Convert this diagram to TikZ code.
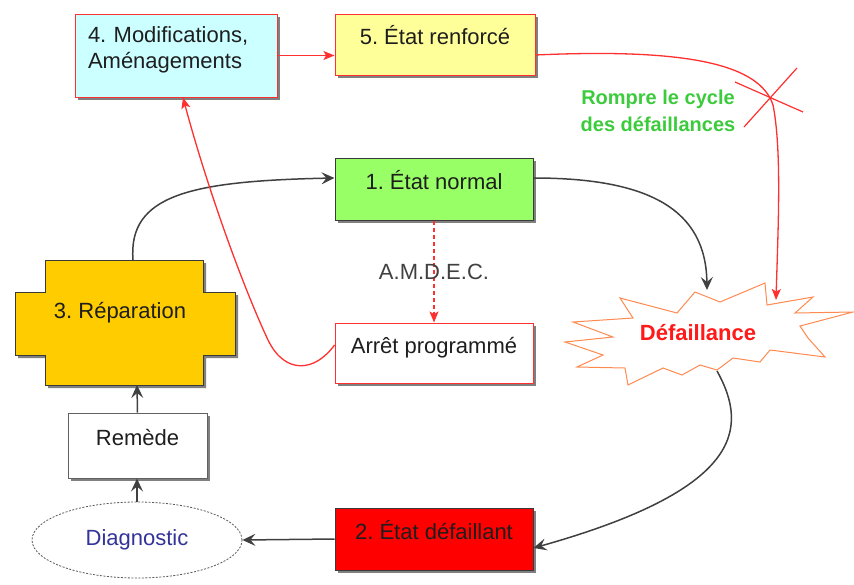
\documentclass[tikz,border=0pt]{standalone}
\usepackage{fontspec}
\setmainfont{Liberation Sans}
\usepackage{xcolor}
\usepackage{tikz}
\usetikzlibrary{arrows.meta,calc,shadows,shapes.geometric}
\frenchspacing
\definecolor{ink}{HTML}{1E1E1E}
\definecolor{cEdge}{HTML}{3A3A3A}
\definecolor{cRed}{HTML}{FF3030}
\definecolor{cCyan}{HTML}{CCFFFF}
\definecolor{cLemon}{HTML}{FFFF99}
\definecolor{cLeaf}{HTML}{99FF66}
\definecolor{cFail}{HTML}{FF0000}
\definecolor{cGold}{HTML}{FFCC00}
\definecolor{cBurst}{HTML}{FF8A50}
\definecolor{cBlue}{HTML}{333399}
\definecolor{cBreak}{HTML}{3CCB3C}
\definecolor{cShade}{HTML}{808080}
\tikzset{
  blk/.style  = {rectangle, line width=1pt, inner xsep=0pt, inner ysep=0pt, text=ink,
                 font=\fontsize{22}{26}\selectfont,
                 drop shadow={shadow xshift=3pt, shadow yshift=-3pt, fill=cShade, opacity=1}},
  red/.style  = {blk, draw=cRed},
  blkd/.style = {blk, draw=cEdge},
  txt/.style  = {font=\fontsize{22}{26}\selectfont, text=ink, inner sep=0pt},
  lab/.style  = {font=\fontsize{22}{26}\selectfont, text=ink!85, inner sep=0pt},
  brk/.style  = {font=\fontsize{20}{27}\selectfont\bfseries, text=cBreak, align=center, inner sep=0pt},
  ar/.style   = {-{Stealth[length=13pt,width=12pt,inset=5pt]}, line width=1.5pt, draw=ink!85},
  rar/.style  = {-{Stealth[length=11pt,width=9pt,inset=2.5pt]}, line width=1.3pt, draw=cRed},
  dar/.style  = {rar, dash pattern=on 4pt off 3pt},
}
\begin{document}
\begin{tikzpicture}[x=1pt,y=-1pt]
  \useasboundingbox (0,0) rectangle (854,584);

  % boxes
  \node[red, fill=cCyan, align=left, text width=176pt, inner xsep=13pt,
        text height=28pt, text depth=55pt] (n4) at (176,55.5) {4. Modifications,\\Aménagements};
  \node[red, fill=cLemon, minimum width=200pt, text height=30.5pt, text depth=30.5pt] (n5) at (435,44.5) {5. État renforcé};
  \node[blkd, fill=cLeaf, minimum width=198pt, text height=31pt, text depth=31pt] (n1) at (434,189) {1. État normal};
  \node[red, fill=white, minimum width=198pt, text height=30pt, text depth=30pt] (arr) at (434,353) {Arrêt programmé};
  \node[blkd, fill=cFail, minimum width=198pt, text height=31pt, text depth=31pt] (n2) at (434,539) {2. État défaillant};
  \node[blkd, draw=cEdge!80, fill=white, minimum width=139pt, text height=32.5pt, text depth=32.5pt] (rem) at (137.5,445.5) {Remède};
  \node[ellipse, draw=cEdge!85, dash pattern=on 2pt off 1.5pt, line width=0.8pt, fill=white, minimum width=210pt,
        minimum height=76pt, inner sep=0pt, font=\fontsize{22}{26}\selectfont, text=cBlue] (diag) at (137,540) {Diagnostic};

  % repair block
  \filldraw[line width=1pt, draw=cEdge, fill=cGold,
            drop shadow={shadow xshift=3pt, shadow yshift=-3pt, fill=cShade, opacity=1}]
    (45,260) -- (203,260) -- (203,292) -- (235,292) -- (235,355) -- (203,355) -- (203,385)
    -- (45,385) -- (45,355) -- (15,355) -- (15,292) -- (45,292) -- cycle;
  \node[txt] (rep) at (120,313) {3. Réparation};
  \coordinate (repN) at (133,260);
  \coordinate (repS) at (137,385);

  % failure burst
  \draw[line width=1pt, draw=cBurst, fill=white]
    (695,292) -- (720,302) -- (765,283) -- (767,305) -- (813,297) -- (795,313) -- (853,312)
    -- (800,326) -- (808,338) -- (825,357) -- (770,350) -- (760,362) -- (733,358) -- (717,370)
    -- (700,365) -- (682,375) -- (663,368) -- (628,385) -- (625,368) -- (577,367) -- (603,355)
    -- (565,342) -- (613,337) -- (573,322) -- (633,318) -- (620,298) -- (677,313) -- cycle;
  \node[font=\fontsize{22}{26}\selectfont\bfseries, text=cFail!90, inner sep=0pt] (def) at (698,333) {Défaillance};
  \coordinate (defA) at (707,290);
  \coordinate (defB) at (776,300);
  \coordinate (defC) at (717,371);

  \node[brk] (brk) at (658,111) {Rompre le cycle\\des défaillances};
  \draw[cRed, line width=1.2pt] (735,82) -- (803,112) (797,68) -- (744,127);

  % cycle
  \draw[ar] (repN) .. controls (128,195) and (190,181) .. ($(n1.west)+(0,-11)$);
  \draw[ar] ($(n1.east)+(0,-11)$) .. controls (650,178) and (706,210) .. (defA);
  \draw[ar] (defC) .. controls (750,430) and (740,490) .. ($(n2.east)+(0,9)$);
  \draw[ar] (n2.west) -- (diag.east);
  \draw[ar] (diag.north) -- (diag.north |- rem.south);
  \draw[ar] (rem.north) -- (repS);

  % improvement loop
  \draw[dar] (n1.south) -- node[lab] {A.M.D.E.C.} (arr.north);
  \draw[rar] ($(arr.west)+(0,-8)$) .. controls (315,372) and (285,375) .. (268,340)
    .. controls (240,280) and (205,180) .. ($(n4.south)+(7,0)$);
  \draw[rar] (n4.east) -- (n4.east -| n5.west);
  \draw[rar] ($(n5.east)+(0,10.5)$) .. controls (690,48) and (760,65) .. (773,105)
    .. controls (782,150) and (778,230) .. (defB);
\end{tikzpicture}
\end{document}
